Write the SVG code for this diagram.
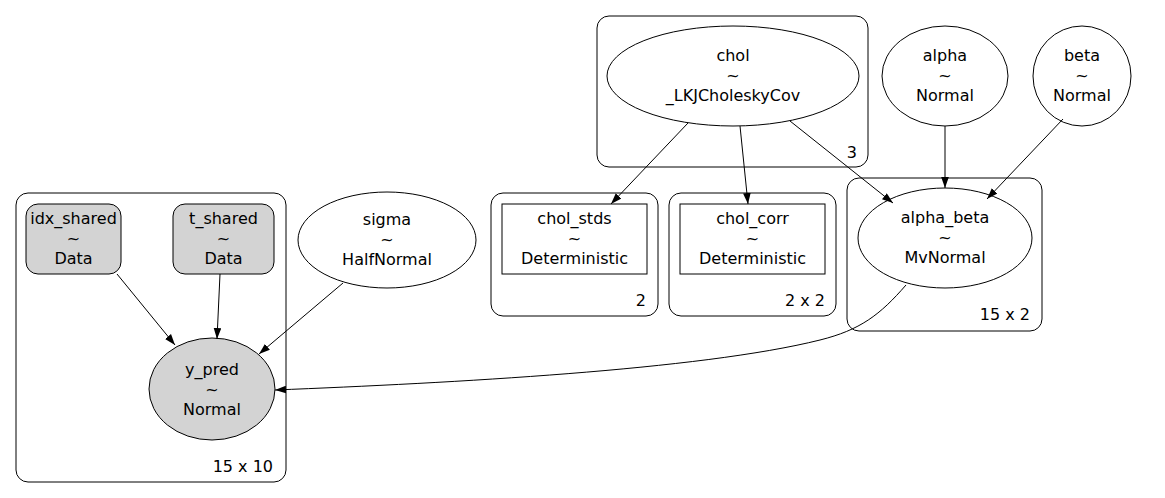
<svg xmlns="http://www.w3.org/2000/svg" width="1165" height="498" viewBox="0 0 1165 498">
<defs>
<style>
text{font-family:"DejaVu Sans","Liberation Sans",sans-serif;font-size:16px;fill:#000;text-anchor:middle}
.lbl{text-anchor:end}
.cl{fill:none;stroke:#000;stroke-width:1}
.nd{fill:none;stroke:#000;stroke-width:1}
.obs{fill:#d3d3d3;stroke:#000;stroke-width:1}
.ed{fill:none;stroke:#000;stroke-width:1}
</style>
<marker id="ah" viewBox="0 0 10 7" refX="10" refY="3.5" markerWidth="11" markerHeight="8" markerUnits="userSpaceOnUse" orient="auto">
<path d="M0,0 L10,3.5 L0,7 Z" fill="#000"/>
</marker>
</defs>
<rect width="1165" height="498" fill="#fff"/>
<g id="clusters">
<g id="cluster_15x10"><rect class="cl" x="16" y="193" width="270" height="289" rx="12"/><text class="lbl" x="273" y="472">15 x 10</text></g>
<g id="cluster_3"><rect class="cl" x="597" y="16" width="271" height="151" rx="12"/><text class="lbl" x="857" y="158">3</text></g>
<g id="cluster_2"><rect class="cl" x="491" y="193" width="167" height="123" rx="12"/><text class="lbl" x="646" y="306">2</text></g>
<g id="cluster_2x2"><rect class="cl" x="669" y="193" width="167" height="123" rx="12"/><text class="lbl" x="825" y="306">2 x 2</text></g>
<g id="cluster_15x2"><rect class="cl" x="847" y="178" width="195" height="153" rx="12"/><text class="lbl" x="1030" y="320">15 x 2</text></g>
</g>
<g id="idx_shared"><rect class="obs" x="26" y="204" width="95" height="70" rx="12"/><text x="73.5" y="224">idx_shared</text><text x="73.5" y="244">~</text><text x="73.5" y="264">Data</text></g>
<g id="t_shared"><rect class="obs" x="173" y="204" width="101" height="70" rx="12"/><text x="223.5" y="224">t_shared</text><text x="223.5" y="244">~</text><text x="223.5" y="264">Data</text></g>
<g id="y_pred"><ellipse class="obs" cx="212" cy="389" rx="63" ry="51"/><text x="212" y="375">y_pred</text><text x="212" y="395">~</text><text x="212" y="415">Normal</text></g>
<g id="sigma"><ellipse class="nd" cx="387" cy="240" rx="89" ry="48"/><text x="387" y="225">sigma</text><text x="387" y="245">~</text><text x="387" y="265">HalfNormal</text></g>
<g id="chol_stds"><rect class="nd" x="502" y="204" width="145" height="70"/><text x="574.5" y="224">chol_stds</text><text x="574.5" y="244">~</text><text x="574.5" y="264">Deterministic</text></g>
<g id="chol_corr"><rect class="nd" x="680" y="204" width="145" height="70"/><text x="752.5" y="224">chol_corr</text><text x="752.5" y="244">~</text><text x="752.5" y="264">Deterministic</text></g>
<g id="chol"><ellipse class="nd" cx="733" cy="76" rx="126" ry="50"/><text x="733" y="61">chol</text><text x="733" y="81">~</text><text x="733" y="101">_LKJCholeskyCov</text></g>
<g id="alpha"><ellipse class="nd" cx="945" cy="76" rx="63" ry="50"/><text x="945" y="61">alpha</text><text x="945" y="81">~</text><text x="945" y="101">Normal</text></g>
<g id="beta"><ellipse class="nd" cx="1082" cy="76" rx="49" ry="50"/><text x="1082" y="61">beta</text><text x="1082" y="81">~</text><text x="1082" y="101">Normal</text></g>
<g id="alpha_beta"><ellipse class="nd" cx="945" cy="238" rx="87" ry="50"/><text x="945" y="223">alpha_beta</text><text x="945" y="243">~</text><text x="945" y="263">MvNormal</text></g>
<g id="edges">
<path class="ed" marker-end="url(#ah)" d="M688,123 L611,204"/>
<path class="ed" marker-end="url(#ah)" d="M740,126 L748,204"/>
<path class="ed" marker-end="url(#ah)" d="M790,121 L893,203"/>
<path class="ed" marker-end="url(#ah)" d="M945,126 L945,188"/>
<path class="ed" marker-end="url(#ah)" d="M1063,119 L987,199"/>
<path class="ed" marker-end="url(#ah)" d="M906,285 C880,315 860,330 820,340 C700,370 450,383 275,390"/>
<path class="ed" marker-end="url(#ah)" d="M117,274 L175,345"/>
<path class="ed" marker-end="url(#ah)" d="M220,274 L217,339"/>
<path class="ed" marker-end="url(#ah)" d="M343,283 L259,354"/>
</g>
</svg>
